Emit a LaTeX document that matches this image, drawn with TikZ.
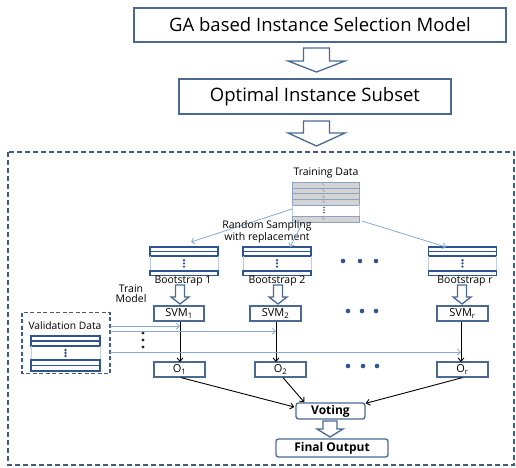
\documentclass[tikz,border=0pt]{standalone}
\usepackage{fontspec}
\setmainfont{Open Sans}
\usetikzlibrary{arrows.meta,calc}
\definecolor{boxblue}{HTML}{4A6A94}
\definecolor{dashblue}{HTML}{3F5D80}
\definecolor{lightarr}{HTML}{86A9D6}
\definecolor{tblblue}{HTML}{2E5592}
\definecolor{rowgray}{HTML}{D4D4D4}
\newcommand\hollowdown[6]{\draw[hollow] ({#1-#5},#2) -- ({#1+#5},#2) -- ({#1+#5},#3) -- ({#1+#6},#3) -- (#1,#4) -- ({#1-#6},#3) -- ({#1-#5},#3) -- cycle;}
\newcommand\bstable[3]{%
  \node[inner sep=0, minimum width=68, minimum height=28.5] (#3) at (#1,{#2+14.25}) {};
  \draw[tbl] ({#1-34},#2) rectangle ({#1+34},{#2+9});
  \draw[tbl] ({#1-34},{#2+4.5}) -- ({#1+34},{#2+4.5});
  \draw[tblside] ({#1-34},{#2+9}) -- ({#1-34},{#2+24}) ({#1+34},{#2+9}) -- ({#1+34},{#2+24});
  \draw[tbl] ({#1-34},{#2+24}) rectangle ({#1+34},{#2+28.5});
  \fill[tblblue] (#1,{#2+13.2}) circle (1.3) (#1,{#2+16.4}) circle (1.3) (#1,{#2+19.6}) circle (1.3);}
\tikzset{
  bigbox/.style={draw=boxblue, line width=1.3pt, inner sep=0, font=\fontsize{18.5}{22}\selectfont},
  smallbox/.style={draw=boxblue, line width=1.2pt, inner sep=0, fill=white, font=\fontsize{11}{13}\selectfont},
  roundbox/.style={draw=boxblue, line width=1.3pt, inner sep=0, fill=white, rounded corners=2.5pt, font=\bfseries\fontsize{12}{14}\selectfont},
  hollow/.style={draw=boxblue, line width=1.3pt, fill=white, line join=miter},
  outerdash/.style={draw=dashblue, line width=1.3pt, dash pattern=on 5pt off 3pt},
  tbl/.style={draw=tblblue, line width=1.2pt},
  tblside/.style={draw=tblblue!30, line width=0.6pt},
  grayrow/.style={fill=rowgray, draw=tblblue!55, line width=0.5pt},
  lblue/.style={draw=lightarr, line width=0.8pt, -{Straight Barb[length=3pt,width=6pt]}},
  blk/.style={draw=black, line width=0.9pt, -{Straight Barb[length=3.5pt,width=6pt]}},
  lbl/.style={inner sep=0, font=\fontsize{10.5}{10}\selectfont},
  tinylbl/.style={inner sep=0, font=\fontsize{3.5}{4}\selectfont, text=black!70},
  bigdot/.style={fill=tblblue}
}
\begin{document}
\begin{tikzpicture}[x=1pt,y=-1pt]
\useasboundingbox (0,0) rectangle (516,467);
% top boxes
\node[bigbox, minimum width=372, minimum height=34] (ga) at (320,25) {GA based Instance Selection Model};
\node[bigbox, minimum width=272, minimum height=35] (opt) at (315,96.5) {Optimal Instance Subset};
\hollowdown{316.5}{48}{61}{72}{13}{28.5}
\hollowdown{316.5}{121}{133}{146}{13}{28.5}
% outer dashed frame
\draw[outerdash] (8,152) rectangle (514,465);
% training data
\node[lbl] (tdl) at (326,173) {Training Data};
\node[inner sep=0, minimum width=67, minimum height=40] (td) at (325.5,202) {};
\draw[grayrow] (292,182) rectangle (359,187.8);
\draw[grayrow] (292,187.8) rectangle (359,193.5);
\draw[grayrow] (292,193.5) rectangle (359,199.2);
\draw[grayrow] (292,199.2) rectangle (359,205);
\draw[tblside] (292,205) -- (292,216) (359,205) -- (359,216);
\draw[grayrow] (292,216) rectangle (359,222);
\node[tinylbl] (i1) at (324,185) {I\textsubscript{1}};
\node[tinylbl] (i2) at (324,190.7) {I\textsubscript{2}};
\node[tinylbl] (i3) at (324,196.4) {I\textsubscript{3}};
\node[tinylbl] (i4) at (324,202.1) {I\textsubscript{4}};
\node[tinylbl] (in) at (324,219) {I\textsubscript{n}};
\fill[tblblue] (324,207.5) circle (0.8) (324,210) circle (0.8) (324,212.5) circle (0.8);
% bootstraps
\bstable{184}{247}{b1}
\bstable{277}{247}{b2}
\bstable{462.5}{247}{br}
\node[lbl] (bl1) at (183,281) {Bootstrap 1};
\node[lbl] (bl2) at (277,281) {Bootstrap 2};
\node[lbl] (blr) at (465,281) {Bootstrap r};
\fill[bigdot] (343,261) circle (2.3) (360,261) circle (2.3) (376,261) circle (2.3);
% sampling arrows
\coordinate (s1) at (292,209); \coordinate (e1) at (191,242);
\coordinate (s2) at (302,224); \coordinate (e2) at (290,247);
\coordinate (s3) at (362,221); \coordinate (e3) at (446,247);
\draw[lblue] (s1) -- (e1);
\draw[lblue] (s3) -- (e3);
\node[lbl, align=center] (rs) at (267,232) {Random Sampling\\with replacement};
\draw[lblue] (s2) -- (e2);
% train model
\node[lbl, align=center] (tm) at (131,293.5) {Train\\Model};
\hollowdown{180}{285}{297}{304}{4.5}{9}
\hollowdown{278}{285}{297}{304}{4.5}{9}
\hollowdown{462}{285}{297}{304}{4.5}{9}
% SVM boxes
\node[smallbox, minimum width=50, minimum height=15] (svm1) at (179,313.5) {SVM\textsubscript{1}};
\node[smallbox, minimum width=51, minimum height=15] (svm2) at (275.5,313.5) {SVM\textsubscript{2}};
\node[smallbox, minimum width=51, minimum height=15] (svmr) at (462.5,313.5) {SVM\textsubscript{r}};
\fill[bigdot] (348,311) circle (2.3) (362,311) circle (2.3) (376,311) circle (2.3);
% O boxes
\node[smallbox, minimum width=51, minimum height=15] (o1) at (179.5,369.5) {O\textsubscript{1}};
\node[smallbox, minimum width=51, minimum height=15] (o2) at (280.5,369.5) {O\textsubscript{2}};
\node[smallbox, minimum width=51, minimum height=15] (or) at (462.5,369.5) {O\textsubscript{r}};
\fill[bigdot] (348,366) circle (2.3) (363,366) circle (2.3) (377,366) circle (2.3);
% validation data
\draw[outerdash, line width=1.1pt, dash pattern=on 4pt off 2.5pt] (22,312.5) rectangle (110,373.5);
\node[inner sep=0, minimum width=88, minimum height=61] (vd) at (66,343) {};
\node[lbl, font=\fontsize{10.3}{10}\selectfont] (vdl) at (65,326) {Validation Data};
\draw[tbl] (31,336) rectangle (100,346);
\draw[tbl] (31,341) -- (100,341);
\draw[tblside] (31,346) -- (31,360) (100,346) -- (100,360);
\draw[tbl] (31,360) rectangle (100,371);
\draw[tbl] (31,365.5) -- (100,365.5);
\fill[tblblue] (65.5,350) circle (1.3) (65.5,353) circle (1.3) (65.5,356) circle (1.3);
\fill[black!85] (143,333) circle (1.6) (143,340) circle (1.6) (143,347) circle (1.6);
% validation arrows
\coordinate (v1) at (110,326); \coordinate (w1) at (180,326);
\coordinate (v2) at (110,331); \coordinate (w2) at (276,331);
\coordinate (v3) at (110,352); \coordinate (w3) at (461,352);
% black arrows svm -> o
\draw[blk] (svm1.south -| 180,0) -- (180,362);
\draw[blk] (svm2.south -| 276,0) -- (276,362);
\draw[blk] (svmr.south -| 461,0) -- (461,362);
\draw[lblue] (v1) -- (w1);
\draw[lblue] (v2) -- (w2);
\draw[lblue] (v3) -- (w3);
% voting
\node[roundbox, minimum width=69, minimum height=16] (vote) at (330.5,411) {Voting};
\draw[blk] ($(o1.south)+(1.5,0)$) -- ($(vote.west)+(-1,-4)$);
\draw[blk] ($(o2.south)+(2.5,0)$) -- ($(vote.north west)+(9,0)$);
\draw[blk] (or.south) -- ($(vote.north east)+(0,1)$);
\hollowdown{330}{421}{429}{437}{7}{13}
\node[roundbox, minimum width=112, minimum height=18] (fin) at (332,448) {Final Output};
\end{tikzpicture}
\end{document}
